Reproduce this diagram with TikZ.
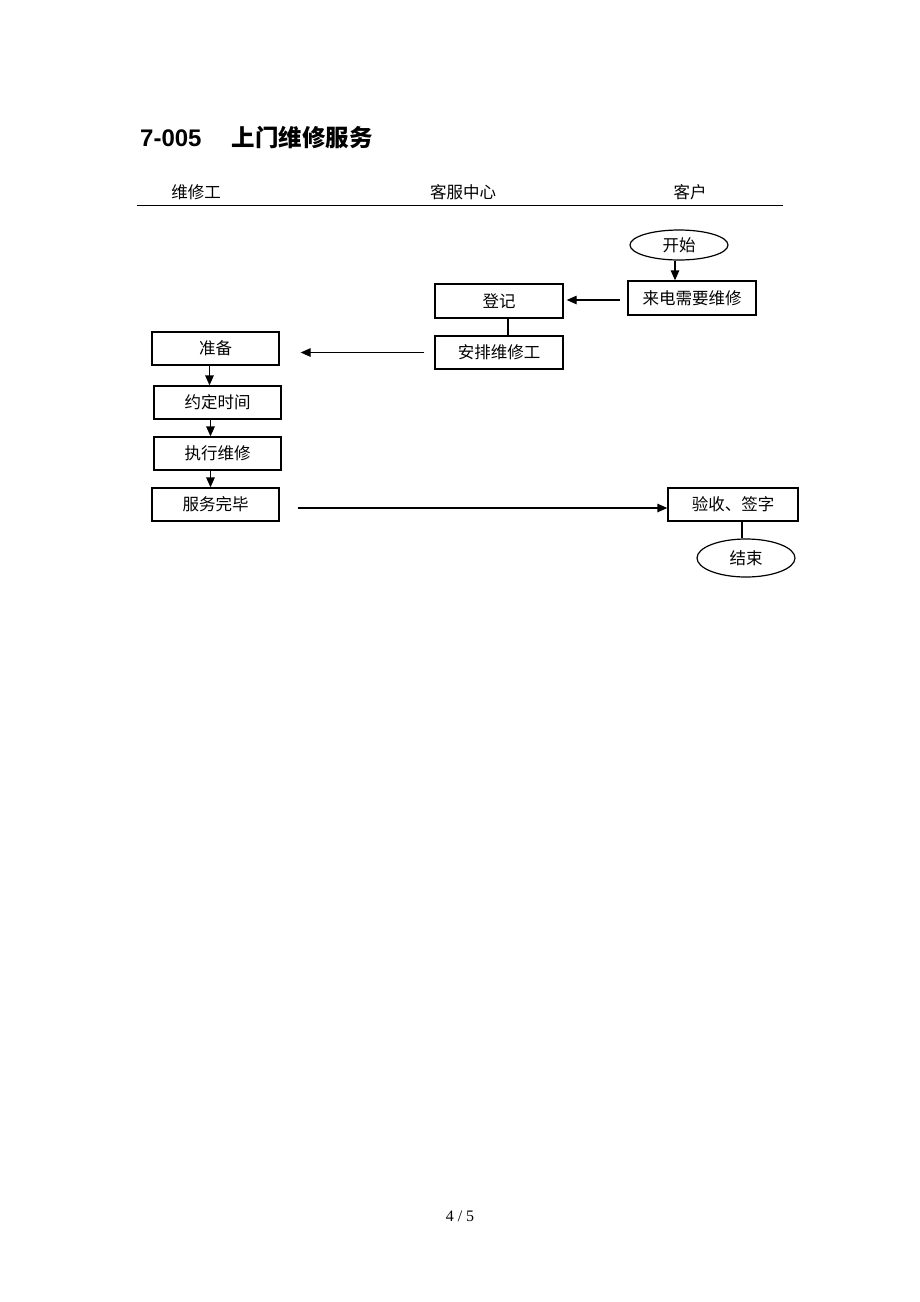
\documentclass[tikz,border=0pt]{standalone}
\usepackage{fontspec}
\setmainfont{Liberation Serif}
\newfontfamily\cjk{Noto Sans CJK SC}
\newfontfamily\titlelatin{Liberation Sans}
\usetikzlibrary{arrows.meta,shapes.geometric}
\tikzset{
  every node/.style={font=\cjk\fontsize{16.5}{19}\selectfont},
  box/.style={draw, line width=1.3pt, inner sep=0pt, minimum width=127pt, minimum height=33pt},
  oval/.style={draw, ellipse, line width=1.2pt, inner sep=0pt, minimum width=98pt},
  arr/.style={line width=1.3pt, -{Triangle[length=10pt,width=8.5pt]}},
  ln/.style={line width=1.3pt},
}
\begin{document}
\begin{tikzpicture}[x=1pt,y=1pt]
\useasboundingbox[fill=white] (0,0) rectangle (920,-1302);
% title
\node[anchor=west, inner sep=0pt] (title) at (140,-137)
  {{\titlelatin\bfseries\fontsize{24}{28}\selectfont 7-005}\hspace{30pt}{\cjk\bfseries\fontsize{23.5}{28}\selectfont 上门维修服务}};
% lane headers
\node (h1) at (196,-192) {维修工};
\node (h2) at (463,-192) {客服中心};
\node (h3) at (690,-192) {客户};
\coordinate (hl) at (137,-205);
\coordinate (hr) at (783,-205);
\draw[ln, line width=1pt] (hl) -- (hr);
% nodes
\node[oval, minimum height=30pt] (start) at (679,-245) {开始};
\node[box, minimum width=128pt, minimum height=34pt] (call) at (692,-298) {来电需要维修};
\node[box, minimum width=128pt, minimum height=34pt] (reg) at (499,-301) {登记};
\node[box, minimum width=128pt] (assign) at (499,-352.5) {安排维修工};
\node[box] (prep) at (215.5,-348.5) {准备};
\node[box] (appt) at (217.5,-402.5) {约定时间};
\node[box] (exec) at (217.5,-453.5) {执行维修};
\node[box] (done) at (215.5,-504.5) {服务完毕};
\node[box, minimum width=130pt] (accept) at (733,-504.5) {验收、签字};
\node[oval, minimum height=38pt] (end) at (746,-558) {结束};
% connectors
\draw[arr] ([xshift=-4pt]start.south) -- ([xshift=-4pt]start.south |- call.north);
\draw[arr, shorten <=7pt, shorten >=3pt] ([yshift=-2pt]call.west) -- ([yshift=-2pt]call.west -| reg.east);
\draw[ln] ([xshift=9pt]reg.south) -- ([xshift=9pt]reg.south |- assign.north);
\draw[arr, shorten <=10pt, shorten >=21pt] (assign.west) -- (assign.west -| prep.east);
\draw[arr] ([xshift=-6pt]prep.south) -- ([xshift=-6pt]prep.south |- appt.north);
\draw[arr] ([xshift=-7pt]appt.south) -- ([xshift=-7pt]appt.south |- exec.north);
\draw[arr] ([xshift=-7pt]exec.south) -- ([xshift=-7pt]exec.south |- done.north);
\draw[arr, shorten <=18pt] ([yshift=-3.5pt]done.east) -- ([yshift=-3.5pt]done.east -| accept.west);
\draw[ln] ([xshift=9pt]accept.south) -- ([xshift=9pt]accept.south |- end.north);
% page number
\node[font=\rmfamily\fontsize{16}{18}\selectfont] (page) at (460,-1216) {4 / 5};
\end{tikzpicture}
\end{document}
